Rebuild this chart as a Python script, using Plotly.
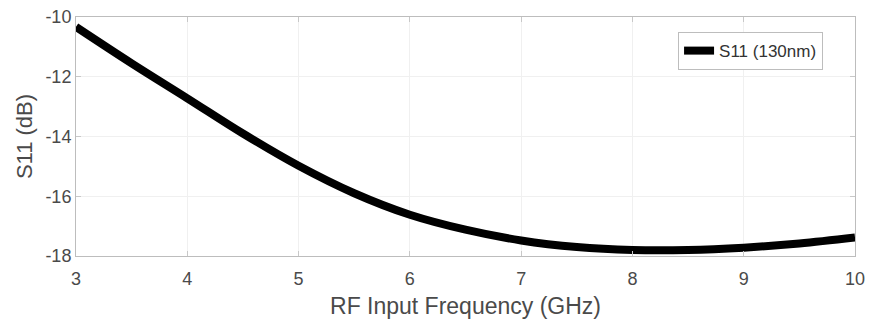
import plotly.graph_objects as go

freq_ghz = [3.0, 3.5, 4.0, 4.5, 5.0, 5.5, 6.0, 6.5, 7.0, 7.5, 8.0, 8.5, 9.0, 9.5, 10.0]
s11_db = [-10.33, -11.55, -12.72, -13.9, -14.98, -15.9, -16.62, -17.12, -17.48, -17.7, -17.8, -17.8, -17.72, -17.58, -17.38]

x_ticks = [3, 4, 5, 6, 7, 8, 9, 10]
y_ticks = [-18, -16, -14, -12, -10]
y_tick_text = ["-18", "-16", "-14", "-12", "-10"]

FONT = "Liberation Sans, Arial"
fig = go.Figure()
fig.add_trace(go.Scatter(x=freq_ghz, y=s11_db, mode="lines", name="S11 (130nm)",
                         line=dict(color="black", width=8, shape="spline")))

axis_common = dict(showline=True, linecolor="#bdbdbd", linewidth=1, mirror="ticks",
                   ticks="inside", ticklen=5, tickcolor="#c8c8c8",
                   showgrid=True, gridcolor="#f0f0f0", gridwidth=1, zeroline=False,
                   automargin=False, ticklabeloverflow="allow",
                   tickfont=dict(family=FONT, size=18, color="#4a4a4a"))

fig.update_layout(
    width=869, height=322,
    margin=dict(l=76, r=14, t=17, b=66),
    plot_bgcolor="white", paper_bgcolor="white",
    xaxis=dict(range=[3, 10], tickvals=x_ticks, ticklabelstandoff=6,
               title=dict(text="RF Input Frequency (GHz)", standoff=10,
                          font=dict(family=FONT, size=23, color="#4a4a4a")),
               **axis_common),
    yaxis=dict(range=[-18, -10], tickvals=y_ticks, ticktext=y_tick_text,
               title=dict(text="S11 (dB)", standoff=6,
                          font=dict(family=FONT, size=22, color="#4a4a4a")),
               **axis_common),
    legend=dict(x=0.959, y=0.937, xanchor="right", yanchor="top",
                bordercolor="#bdbdbd", borderwidth=1, bgcolor="white",
                font=dict(family=FONT, size=17, color="#333"),
                itemwidth=30, tracegroupgap=0),
    showlegend=True,
)

fig.write_html("out.html")
